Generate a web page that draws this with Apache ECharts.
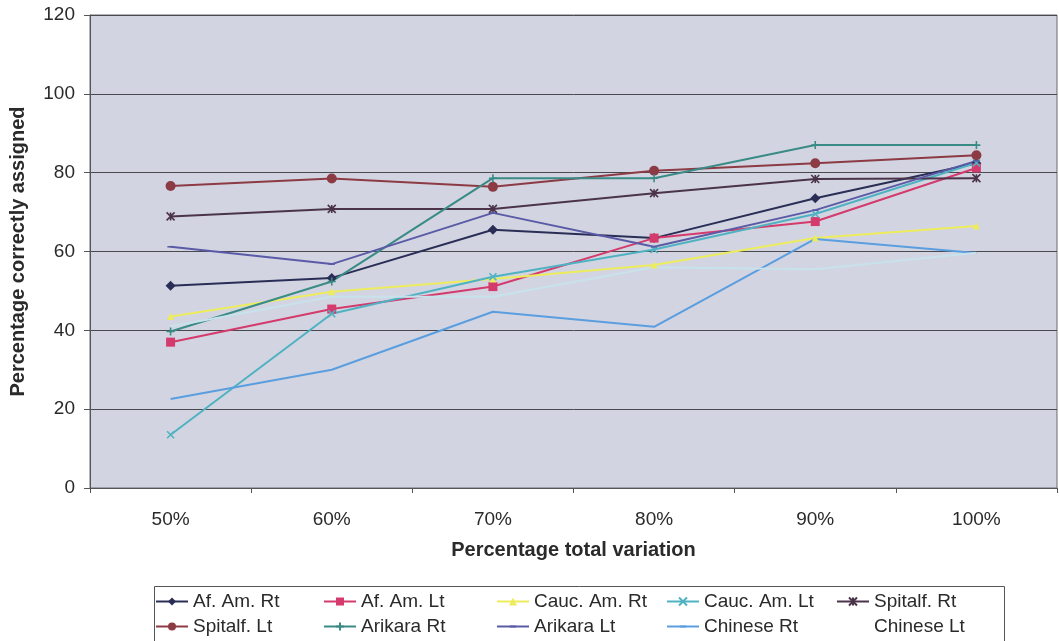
<!DOCTYPE html>
<html>
<head>
<meta charset="utf-8">
<script src="https://cdn.jsdelivr.net/npm/echarts@6/dist/echarts.min.js"></script>
<style>
html,body{margin:0;padding:0;background:#fff;}
#chart{width:1059px;height:641px;}
</style>
</head>
<body>
<div id="chart"></div>
<script>
// ---- data ----
const categories = ['50%', '60%', '70%', '80%', '90%', '100%'];
const afAmRt    = [51.3, 53.3, 65.5, 63.4, 73.5, 82.4];
const afAmLt    = [37.0, 45.4, 51.1, 63.4, 67.6, 81.2];
const caucAmRt  = [43.5, 49.8, 53.0, 56.6, 63.4, 66.5];
const caucAmLt  = [13.5, 44.2, 53.6, 60.5, 69.5, 82.5];
const spitalfRt = [68.9, 70.8, 70.8, 74.8, 78.4, 78.6];
const spitalfLt = [76.6, 78.5, 76.4, 80.5, 82.4, 84.4];
const arikaraRt = [39.7, 52.4, 78.6, 78.6, 87.0, 87.0];
const arikaraLt = [61.2, 56.8, 69.8, 61.2, 70.5, 83.0];
const chineseRt = [22.6, 30.0, 44.7, 40.9, 63.2, 59.6];
const chineseLt = [41.0, 48.5, 48.5, 56.0, 55.5, 59.7];
const yTicks = [0, 20, 40, 60, 80, 100, 120];
const seriesNames = ['Af. Am. Rt','Af. Am. Lt','Cauc. Am. Rt','Cauc. Am. Lt','Spitalf. Rt',
                     'Spitalf. Lt','Arikara Rt','Arikara Lt','Chinese Rt','Chinese Lt'];

const X = 'path://M0,0L10,10M10,0L0,10';
const STAR = 'path://M0,0L10,10M10,0L0,10M5,0L5,10';
const PLUS = 'path://M5,0L5,10M0,5L10,5';
// square bounding box (zero-length corner segments) so the symbol scales without NaN
const DASH = 'path://M0,0L0,0M1,5L9,5M10,10L10,10';

function mk(name, data, color, symbol, size, width, stroke, hideSymbol) {
  const s = {
    name: name, type: 'line', data: data,
    symbol: symbol, symbolSize: size, showSymbol: !hideSymbol,
    lineStyle: { color: color, width: width },
    itemStyle: { color: color },
    emphasis: { disabled: true },
    z: 3
  };
  if (stroke) {
    s.itemStyle = { color: color, borderColor: color, borderWidth: 1.6 };
  }
  return s;
}

const font = 'Liberation Sans, Arial, sans-serif';
const colStarts = [192, 360, 533, 703, 873];
const legends = colStarts.map(function (x, col) {
  const items = [seriesNames[col], seriesNames[col + 5]].map(function (n) {
    if (n === 'Chinese Lt') {
      return { name: n, lineStyle: { color: '#ffffff', opacity: 0 }, itemStyle: { opacity: 0 } };
    }
    return { name: n };
  });
  return {
    id: 'lg' + col, data: items, left: x - 37, top: 591, padding: 0,
    orient: 'vertical', itemGap: 4,
    itemWidth: 32, itemHeight: 10, selectedMode: false,
    textStyle: { fontSize: 19, lineHeight: 21, color: '#2a2a2a', fontFamily: font }
  };
});

const chart = echarts.init(document.getElementById('chart'), null, { renderer: 'canvas' });

const option = {
  animation: false,
  backgroundColor: '#ffffff',
  grid: {
    left: 90, right: 2, top: 15, bottom: 153,
    show: true, backgroundColor: '#d2d5e1', borderColor: '#6a6a70', borderWidth: 1
  },
  xAxis: {
    type: 'category', data: categories, boundaryGap: true,
    axisLine: { lineStyle: { color: '#555', width: 1 } },
    axisTick: { show: true, length: 5, lineStyle: { color: '#555' } },
    axisLabel: { color: '#2a2a2a', fontSize: 19, fontFamily: font, margin: 22 },
    name: 'Percentage total variation', nameLocation: 'middle', nameGap: 52,
    nameTextStyle: { fontSize: 20, fontWeight: 'bold', color: '#2a2a2a', fontFamily: font },
    splitLine: { show: false }
  },
  yAxis: {
    type: 'value', min: yTicks[0], max: yTicks[yTicks.length - 1], interval: 20,
    axisLine: { show: true, lineStyle: { color: '#555', width: 1 } },
    axisTick: { show: true, length: 6, lineStyle: { color: '#555' } },
    axisLabel: { color: '#2a2a2a', fontSize: 19, fontFamily: font, margin: 15 },
    splitLine: { show: true, lineStyle: { color: '#4a4a4e', width: 1 } },
    name: 'Percentage correctly assigned', nameLocation: 'middle', nameGap: 62, nameRotate: 90,
    nameTextStyle: { fontSize: 20, fontWeight: 'bold', color: '#2a2a2a', fontFamily: font }
  },
  legend: legends,
  graphic: [
    { type: 'rect', left: 152, top: 584, shape: { width: 850, height: 60 },
      style: { fill: 'none', stroke: '#555', lineWidth: 1 }, silent: true }
  ],
  series: [
    mk(seriesNames[0], afAmRt, '#2a2e56', 'diamond', 10, 2),
    mk(seriesNames[1], afAmLt, '#d43a6c', 'rect', 9, 2),
    mk(seriesNames[2], caucAmRt, '#ecec5c', 'triangle', 7, 2),
    mk(seriesNames[3], caucAmLt, '#4fb2c2', X, 7, 2, true),
    mk(seriesNames[4], spitalfRt, '#4b3449', STAR, 8, 2, true),
    mk(seriesNames[5], spitalfLt, '#8c3a44', 'circle', 10, 2),
    mk(seriesNames[6], arikaraRt, '#3a8a86', PLUS, 8, 2, true),
    mk(seriesNames[7], arikaraLt, '#5a5aa6', DASH, 8, 2, true),
    mk(seriesNames[8], chineseRt, '#5a9ee0', DASH, 6, 2, true, true),
    mk(seriesNames[9], chineseLt, '#c8e2ec', DASH, 6, 2, true, true)
  ]
};
chart.setOption(option);
</script>
</body>
</html>
